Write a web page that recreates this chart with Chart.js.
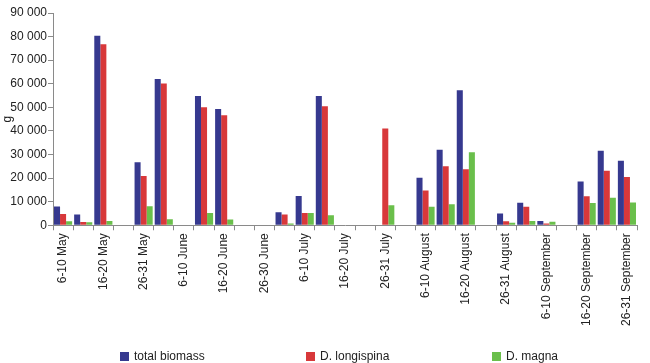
<!DOCTYPE html>
<html>
<head>
<meta charset="utf-8">
<script src="https://cdn.jsdelivr.net/npm/chart.js@4"></script>
<style>
  body { margin: 0; background: #fff; }
  #wrap { position: relative; width: 650px; height: 363px; }
  #legend { position: absolute; left: 120px; top: 349px; display: flex; font: 12px Arial, "Liberation Sans", sans-serif; color: #222; }
  #legend .item { width: 186px; display: flex; align-items: center; }
  #legend .box { width: 9px; height: 9px; margin-right: 5px; }
</style>
</head>
<body>
<div id="wrap">
  <canvas id="barChart" width="650" height="363"></canvas>
  <div id="legend"></div>
</div>
<script>
var categories = [
  "6-10 May", "11-15 May", "16-20 May", "21-25 May", "26-31 May",
  "1-5 June", "6-10 June", "11-15 June", "16-20 June", "21-25 June", "26-30 June",
  "1-5 July", "6-10 July", "11-15 July", "16-20 July", "21-25 July", "26-31 July",
  "1-5 August", "6-10 August", "11-15 August", "16-20 August", "21-25 August", "26-31 August",
  "1-5 September", "6-10 September", "11-15 September", "16-20 September", "21-25 September", "26-31 September"
];

var totalBiomass = [8000, 4600, 80400, null, 26700, 62000, null, 54800, 49300, null, null,
  5500, 12400, 54800, null, null, null, null, 20100, 32000, 57200, null, 5000,
  9500, 1800, null, 18600, 31600, 27400];

var longispina = [4800, 1400, 76700, null, 20900, 60100, null, 50000, 46600, null, null,
  4600, 5200, 50500, null, null, 41000, null, 14700, 25000, 23800, null, 1700,
  7900, 800, null, 12300, 23100, 20500];

var magna = [1700, 1300, 1800, null, 8100, 2600, null, 5200, 2400, null, null,
  800, 5200, 4200, null, null, 8500, null, 7900, 8900, 31000, null, 1100,
  1800, 1500, null, 9400, 11700, 9700];

var yTicks = [0, 10000, 20000, 30000, 40000, 50000, 60000, 70000, 80000, 90000];

var axisColor = "#8a8a8a";
var textColor = "#222";

var ctx = document.getElementById("barChart").getContext("2d");
var myChart = new Chart(ctx, {
  type: "bar",
  data: {
    labels: categories,
    datasets: [
      {
        label: "total biomass",
        data: totalBiomass,
        backgroundColor: "rgb(54, 57, 143)",
      },
      {
        label: "D. longispina",
        data: longispina,
        backgroundColor: "rgb(216, 56, 58)",
      },
      {
        label: "D. magna",
        data: magna,
        backgroundColor: "rgb(106, 191, 75)",
      },
    ],
  },
  options: {
    responsive: false,
    animation: false,
    layout: { padding: { top: 13, right: 13, bottom: 34, left: 0 } },
    datasets: { bar: { categoryPercentage: 0.9, barPercentage: 1.0 } },
    plugins: {
      legend: { display: false },
      tooltip: { enabled: false },
    },
    scales: {
      x: {
        grid: { display: true, drawOnChartArea: false, drawTicks: true, tickLength: 5, color: axisColor },
        border: { display: true, color: axisColor },
        ticks: {
          autoSkip: false,
          minRotation: 90,
          maxRotation: 90,
          padding: 3,
          color: textColor,
          font: { family: "Arial, 'Liberation Sans', sans-serif", size: 12 },
          callback: function (value, index) {
            return index % 2 === 0 ? categories[index] : "";
          },
        },
      },
      y: {
        min: 0,
        max: 90000,
        afterBuildTicks: function (scale) {
          scale.ticks = yTicks.map(function (v) { return { value: v }; });
        },
        afterFit: function (scale) { scale.width = 53; },
        grid: { display: true, drawOnChartArea: false, drawTicks: true, tickLength: 5, color: axisColor },
        border: { display: true, color: axisColor },
        title: {
          display: true,
          text: "g",
          padding: 0,
          color: textColor,
          font: { family: "Arial, 'Liberation Sans', sans-serif", size: 12 },
        },
        ticks: {
          padding: 1,
          color: textColor,
          font: { family: "Arial, 'Liberation Sans', sans-serif", size: 12 },
          callback: function (value) {
            return String(value).replace(/\B(?=(\d{3})+(?!\d))/g, " ");
          },
        },
      },
    },
  },
});

// legend built from the datasets
var legend = document.getElementById("legend");
myChart.data.datasets.forEach(function (ds) {
  var item = document.createElement("div");
  item.className = "item";
  var box = document.createElement("span");
  box.className = "box";
  box.style.background = ds.backgroundColor;
  var txt = document.createElement("span");
  txt.textContent = ds.label;
  item.appendChild(box);
  item.appendChild(txt);
  legend.appendChild(item);
});
</script>
</body>
</html>
